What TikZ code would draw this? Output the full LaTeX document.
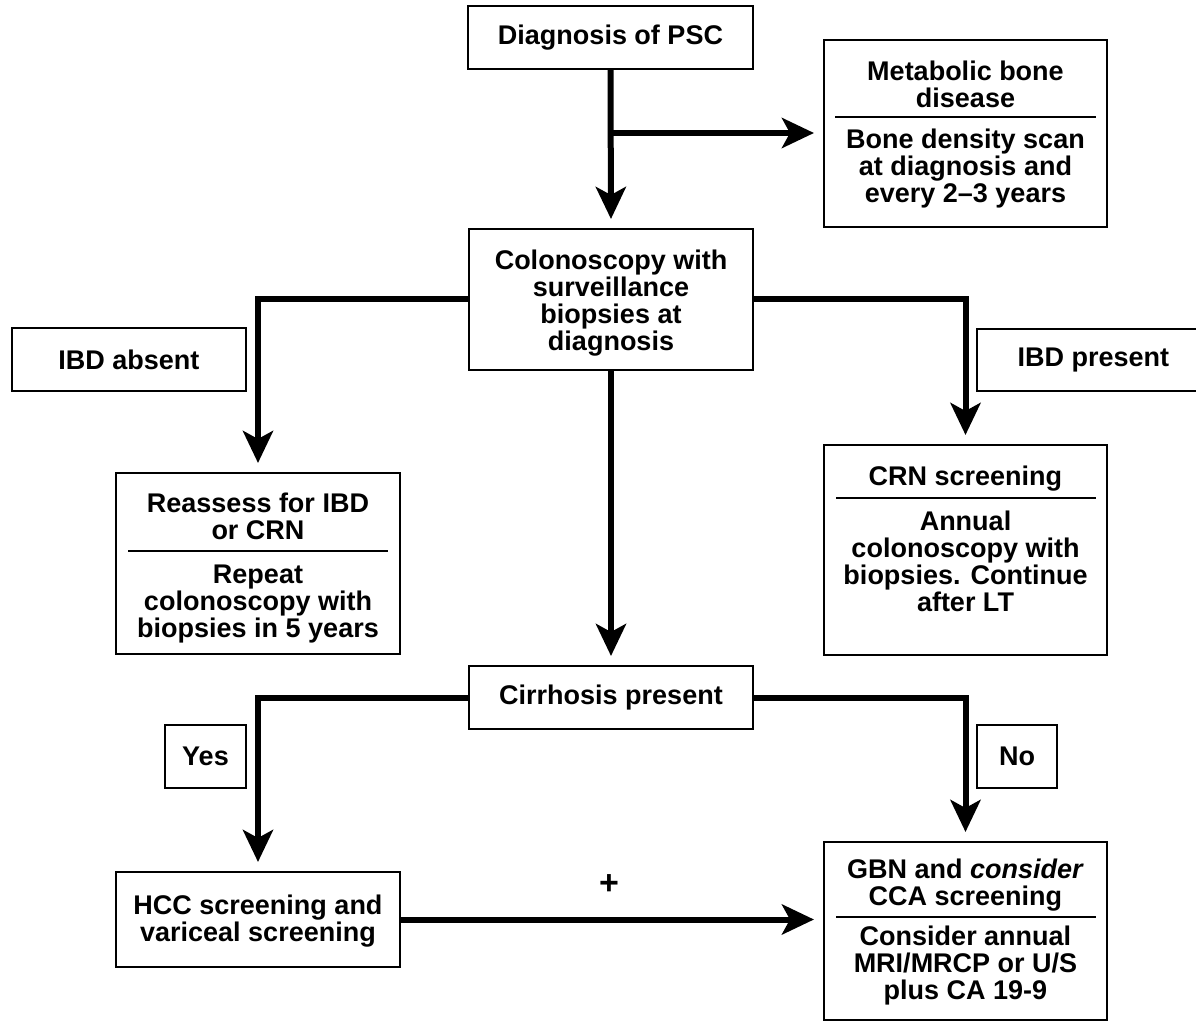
\documentclass[tikz,border=0pt]{standalone}
\usepackage{fontspec}
\setmainfont{Liberation Sans}
\usetikzlibrary{arrows.meta}
\begin{document}
\begin{tikzpicture}[x=0.5pt,y=-0.5pt,
  font=\fontsize{13.5}{13.5}\selectfont\bfseries,
  box/.style={draw, line width=1pt, inner sep=0pt, align=center},
  txt/.style={inner sep=0pt, align=center},
  divider/.style={line width=0.8pt},
  arr/.style={line width=3pt, -{Stealth[length=16pt,width=15pt,inset=4pt]}, shorten >=4.5pt},
  conn/.style={line width=3pt}]
\fill[white] (0,0) rectangle (1196,1022);
\useasboundingbox (0,0) rectangle (1196,1022);

% boxes
\node[box, minimum width=142.5pt, minimum height=31.5pt] (diag) at (610.5,37.5) {Diagnosis of PSC};
\node[box, minimum width=141.5pt, minimum height=93.5pt] (metab) at (965.5,133.5) {};
\node[txt] (metabT) at (965.5,84) {Metabolic bone\\disease};
\node[txt] (metabB) at (965.5,169) {Bone density scan\\at diagnosis and\\every 2--3 years};
\draw[divider] (835,117) -- (1096,117);

\node[box, minimum width=142pt, minimum height=70.5pt] (colon) at (611,299.5) {};
\node[txt] (colonT) at (611,303) {Colonoscopy with\\surveillance\\biopsies at\\diagnosis};

\node[box, minimum width=117pt, minimum height=31.5pt] (ibdabs) at (129,359.5) {IBD absent};
\node[box, minimum width=116.5pt, minimum height=31pt] (ibdpres) at (1093.5,360) {IBD present};

\node[box, minimum width=142pt, minimum height=90.5pt] (reass) at (258,563.5) {};
\node[txt] (reassT) at (258,516.5) {Reassess for IBD\\or CRN};
\node[txt] (reassB) at (258,604.5) {Repeat\\colonoscopy with\\biopsies in 5 years};
\draw[divider] (128,551) -- (388,551);

\node[box, minimum width=141.5pt, minimum height=105pt] (crn) at (965.5,550) {};
\node[txt] (crnT) at (965.5,479) {CRN screening};
\node[txt] (crnB) at (965.5,561) {Annual\\colonoscopy with\\biopsies. Continue\\after LT};
\draw[divider] (836,498) -- (1096,498);

\node[box, minimum width=142pt, minimum height=31.5pt] (cirr) at (611,697.5) {Cirrhosis present};
\node[box, minimum width=40.5pt, minimum height=31.5pt] (yes) at (205.5,756.5) {Yes};
\node[box, minimum width=40pt, minimum height=31.5pt] (no) at (1017,756.5) {No};

\node[box, minimum width=142pt, minimum height=47.5pt] (hcc) at (258,919.5) {};
\node[txt] (hccT) at (258,921.5) {HCC screening and\\variceal screening};

\node[box, minimum width=141.5pt, minimum height=89pt] (gbn) at (965.5,931) {};
\node[txt] (gbnT) at (965.5,885) {GBN and \textit{consider}\\CCA screening};
\node[txt] (gbnB) at (965.5,965.5) {Consider annual\\MRI/MRCP or U/S\\plus CA 19-9};
\draw[divider] (836,917) -- (1096,917);

\node[txt, font=\fontsize{17}{17}\selectfont\bfseries] (plus) at (609,885) {+};

% connectors
\coordinate (b1) at (610.5,133);
\draw[arr] (diag.south) -- (colon.north);
\draw[arr] (b1) -- (b1 -| metab.west);
\draw[arr] (colon.west) -| (reass.north);
\draw[arr] (colon.east) -| (crn.north);
\draw[arr] (colon.south) -- (cirr.north);
\draw[arr] (cirr.west) -| (hcc.north);
\draw[arr] (cirr.east) -| (gbn.north);
\draw[arr] (hcc.east) -- (hcc.east -| gbn.west);
\end{tikzpicture}
\end{document}
